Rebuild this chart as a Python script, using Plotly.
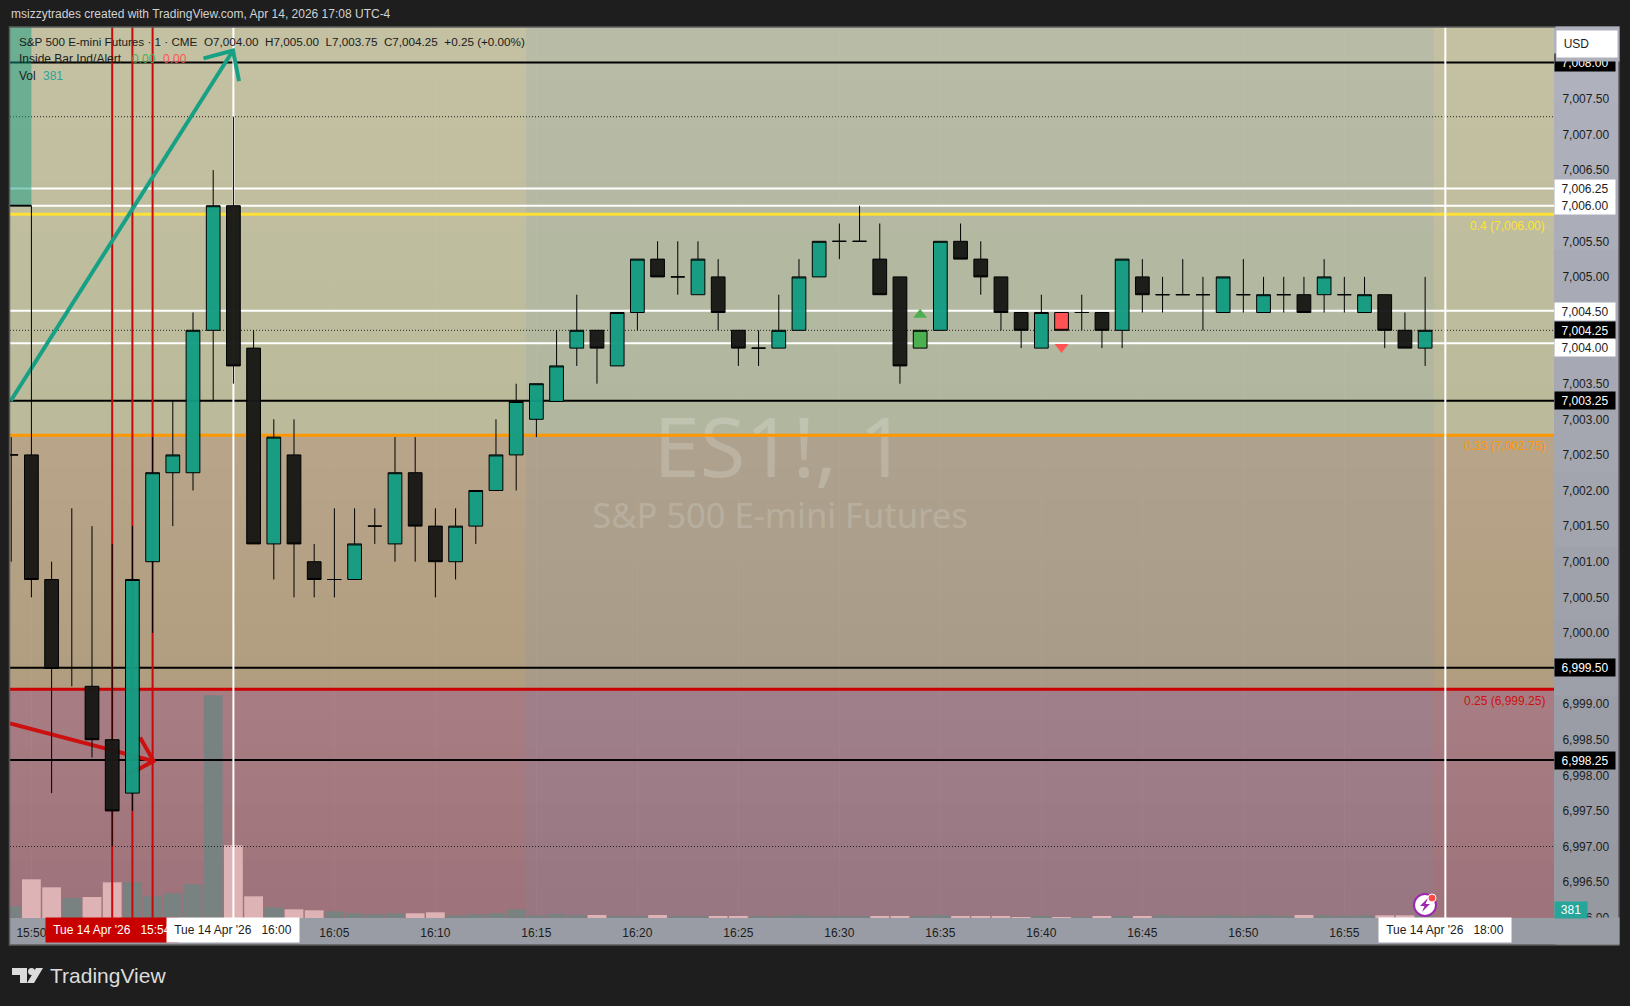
import plotly.graph_objects as go

FONT = "Liberation Sans"

# 1 min bars, 15:49 .. 16:59
times = ["15:%02d" % m for m in range(49, 60)] + ["16:%02d" % m for m in range(0, 60)] + ["18:00"]
opens = [7002.5, 7002.5, 7000.75, None, 6999.25, 6998.5, 6997.75, 7001, 7002.25, 7002.25,
         7004.25, 7006, 7004, 7001.25, 7002.5, 7001, 7000.75, 7000.75, 7001.5, 7001.25,
         7002.25, 7001.5, 7001, 7001.5, 7002, 7002.5, 7003, 7003.25, 7004, 7004.25,
         7003.75, 7004.5, 7005.25, 7005, 7004.75, 7005, 7004.25, 7004, 7004, 7004.25,
         7005, 7005.5, 7005.5, 7005.25, 7005, 7004, 7004.25, 7005.5, 7005.25, 7005,
         7004.5, 7004, 7004.5, 7004.5, 7004.5, 7004.25, 7005, 7004.75, 7004.75, 7004.75,
         7004.5, 7004.75, 7004.5, 7004.75, 7004.75, 7004.75, 7004.75, 7004.5, 7004.75, 7004.25,
         7004]
highs = [7002.75, 7006, 7001, 7001.75, 7001.5, 7001.25, 7001.5, 7002.75, 7003.25, 7004.5,
         7006.5, 7007.25, 7004.25, 7003, 7003, 7001.25, 7001.75, 7001.75, 7001.75, 7002.75,
         7002.75, 7001.75, 7001.75, 7002, 7003, 7003.5, 7003.5, 7004.25, 7004.75, 7004.25,
         7004.5, 7005.25, 7005.5, 7005.5, 7005.5, 7005.25, 7004.25, 7004.25, 7004.75, 7005.25,
         7005.5, 7005.75, 7006, 7005.75, 7005, 7004.25, 7005.5, 7005.75, 7005.5, 7005,
         7004.5, 7004.75, 7004.5, 7004.75, 7004.5, 7005.25, 7005.25, 7005, 7005.25, 7005,
         7005, 7005.25, 7005, 7005, 7005, 7005.25, 7005, 7005, 7004.75, 7004.5,
         7005]
lows = [7001, 7000.5, 6997.75, 6999.25, 6998.25, 6997, 6997.5, 7000, 7001.5, 7002,
        7003.25, 7003.5, 7001.25, 7000.75, 7000.5, 7000.5, 7000.5, 7000.75, 7001.25, 7001,
        7001, 7000.5, 7000.75, 7001.25, 7002, 7002, 7002.75, 7003.25, 7003.75, 7003.5,
        7003.75, 7004.25, 7005, 7004.75, 7004.75, 7004.25, 7003.75, 7003.75, 7004, 7004.25,
        7005, 7005.25, 7005.5, 7004.75, 7003.5, 7004, 7004.25, 7005.25, 7004.75, 7004.25,
        7004, 7004, 7004.25, 7004.25, 7004, 7004, 7004.5, 7004.5, 7004.75, 7004.25,
        7004.5, 7004.5, 7004.5, 7004.5, 7004.5, 7004.5, 7004.5, 7004.5, 7004, 7004,
        7003.75]
closes = [7002.5, 7000.75, 6999.5, None, 6998.5, 6997.5, 7000.75, 7002.25, 7002.5, 7004.25,
          7006, 7003.75, 7001.25, 7002.75, 7001.25, 7000.75, 7000.75, 7001.25, 7001.5, 7002.25,
          7001.5, 7001, 7001.5, 7002, 7002.5, 7003.25, 7003.5, 7003.75, 7004.25, 7004,
          7004.5, 7005.25, 7005, 7005, 7005.25, 7004.5, 7004, 7004, 7004.25, 7005,
          7005.5, 7005.5, 7005.5, 7004.75, 7003.75, 7004.25, 7005.5, 7005.25, 7005, 7004.5,
          7004.25, 7004.5, 7004.25, 7004.5, 7004.25, 7005.25, 7004.75, 7004.75, 7004.75, 7004.75,
          7005, 7004.75, 7004.75, 7004.75, 7004.5, 7005, 7004.75, 7004.75, 7004.25, 7004,
          7004.25]
volumes = [1800, 5800, 4600, 3000, 3150, 5350, 5350, 3250, 3700, 5050,
           33400, 10900, 3250, 1600, 1300, 1150, 1000, 700, 550, 700,
           700, 850, 400, 550, 700, 1300, 400, 600, 450, 450,
           300, 300, 450, 300, 300, 300, 300, 300, 300, 450,
           300, 300, 300, 300, 300, 300, 450, 300, 300, 300,
           150, 300, 150, 100, 300, 300, 300, 450, 300, 300,
           450, 300, 450, 300, 450, 400, 350, 400, 400, 400,
           381]
pink_vol = [1, 2, 4, 5, 11, 12, 14, 15, 20, 21, 29, 32, 35, 36, 43, 44, 47, 48, 49, 50, 52, 54, 56, 64, 68, 69]
inside_up = 45
inside_down = 52
no_body = 3

white_lines = [7006.24, 7006.0, 7004.525, 7004.07]
black_lines = [7008.01, 7003.26, 6999.51, 6998.215]
dotted_lines = [7007.25, 7004.25, 6997.0]
fib_lines = [(7005.88, "#ffe135"), (7002.775, "#ff9800"), (6999.21, "#cc0000")]
red_times = ["15:54", "15:55", "15:56"]
white_times = ["16:00", "18:00"]
time_ticks = ["15:50", "16:05", "16:10", "16:15", "16:20", "16:25", "16:30", "16:35",
              "16:40", "16:45", "16:50", "16:55"]
price_ticks = [6996, 6996.5, 6997, 6997.5, 6998, 6998.5, 6999, 6999.5, 7000, 7000.5, 7001, 7001.5, 7002,
               7002.5, 7003, 7003.5, 7004, 7004.5, 7005, 7005.5, 7006, 7006.5, 7007, 7007.5, 7008]
flags = [("7,008.00", 7008.01, "black"), ("7,006.25", 7006.24, "white"), ("7,006.00", 7006.0, "white"),
         ("7,004.50", 7004.52, "white"), ("7,004.25", 7004.25, "black"), ("7,004.00", 7004.01, "white"),
         ("7,003.25", 7003.26, "black"), ("6,999.50", 6999.51, "black"), ("6,998.25", 6998.215, "black")]

XMIN, XMAX = -0.06, 76.38
YMIN, YMAX = 6995.996, 7008.51
VOLMAX = 133650

teal_arrow_x = [-0.02, 10.98, None, 9.52, 10.98, 11.28]
teal_arrow_y = [7003.26, 7008.18, None, 7008.07, 7008.18, 7007.75]
red_arrow_x = [-0.06, 7.05, None, 6.38, 7.05, 5.67]
red_arrow_y = [6998.73, 6998.2, None, 6998.53, 6998.2, 6997.99]


def X(px):
    return (px - 10) / 1544


def Y(py):
    return (918 - py) / 891


idx = list(range(len(times)))
pos = {t: i for i, t in enumerate(times)}
fig = go.Figure()

# volume is the lowest thing on the chart
fig.add_trace(go.Bar(x=idx[:71], y=volumes, width=0.93, yaxis="y", hoverinfo="skip",
                     marker=dict(color=["#deb3b6" if i in pink_vol else "#788280" for i in idx[:71]], line_width=0)))

# watermark
fig.add_trace(go.Scatter(x=[38.06], y=[7002.48], yaxis="y2", mode="text", text=["ES1!, 1"], hoverinfo="skip",
                         textfont=dict(family="Noto Sans", size=83, color="rgba(255,255,255,0.18)")))
fig.add_trace(go.Scatter(x=[38.06], y=[7001.6], yaxis="y2", mode="text", text=["S&P 500 E-mini Futures"], hoverinfo="skip",
                         textfont=dict(family="Noto Sans", size=34.5, color="rgba(255,255,255,0.18)")))


def hline(p, color, width, dash="solid"):
    fig.add_trace(go.Scatter(x=[XMIN, XMAX], y=[p, p], yaxis="y2", mode="lines", hoverinfo="skip",
                             line=dict(color=color, width=width, dash=dash)))


def vline(t, color, width):
    fig.add_trace(go.Scatter(x=[pos[t], pos[t]], y=[YMIN, YMAX], yaxis="y2", mode="lines", hoverinfo="skip",
                             line=dict(color=color, width=width)))


for p in dotted_lines:
    hline(p, "#222222", 1, "1px,2px")
for p in white_lines:
    hline(p, "#ffffff", 2)
for p, c in fib_lines:
    hline(p, c, 3)
for p in black_lines:
    hline(p, "#000000", 2)
for t in red_times:
    vline(t, "#c80a0a", 2)
for t in white_times:
    vline(t, "#ffffff", 2)

# box at the left edge
fig.add_trace(go.Scatter(x=[XMIN, 1, 1, XMIN, XMIN], y=[YMAX, YMAX, 7006, 7006, YMAX], yaxis="y2", mode="lines",
                         fill="toself", fillcolor="rgba(20,155,130,0.5)", line_width=0, hoverinfo="skip"))
fig.add_trace(go.Scatter(x=[XMIN, 1], y=[7006, 7006], yaxis="y2", mode="lines", hoverinfo="skip",
                         line=dict(color="#000000", width=2)))
fig.add_trace(go.Scatter(x=teal_arrow_x, y=teal_arrow_y, yaxis="y2", mode="lines", hoverinfo="skip",
                         line=dict(color="#18a085", width=4)))
fig.add_trace(go.Scatter(x=red_arrow_x, y=red_arrow_y, yaxis="y2", mode="lines", hoverinfo="skip",
                         line=dict(color="#cc1010", width=4)))

# candles on top of the drawings
skip = [no_body, inside_up, inside_down]
keep = [i for i in idx[:71] if i not in skip]


def candles(ii, up, down):
    fig.add_trace(go.Candlestick(x=ii, open=[opens[i] for i in ii], high=[highs[i] for i in ii],
                                 low=[lows[i] for i in ii], close=[closes[i] for i in ii], yaxis="y3",
                                 whiskerwidth=0, hoverinfo="skip",
                                 increasing=dict(fillcolor=up, line=dict(color="#000000", width=1)),
                                 decreasing=dict(fillcolor=down, line=dict(color="#000000", width=1))))


candles(keep, "rgba(18,156,130,0.96)", "rgba(24,24,22,0.97)")
candles([inside_up], "#4caf50", "#4caf50")
candles([inside_down], "#ff5252", "#ff5252")
fig.add_trace(go.Scatter(x=[no_body, no_body], y=[lows[no_body], highs[no_body]], yaxis="y3", mode="lines",
                         hoverinfo="skip", line=dict(color="#000000", width=1)))
fig.add_trace(go.Scatter(x=[inside_up], y=[7004.47], yaxis="y3", mode="markers", hoverinfo="skip",
                         marker=dict(symbol="triangle-up", size=12, color="#4caf50")))
fig.add_trace(go.Scatter(x=[inside_down], y=[7004.015], yaxis="y3", mode="markers", hoverinfo="skip",
                         marker=dict(symbol="triangle-down", size=12, color="#ff5252")))

shapes = []


def rect(x0, y0, x1, y1, fill, layer="below"):
    shapes.append(dict(type="rect", xref="paper", yref="paper", x0=X(x0), x1=X(x1), y0=Y(y0), y1=Y(y1),
                       fillcolor=fill, line_width=0, layer=layer))


def gradient(x0, y0, y1, x1, c0, c1, n=8):
    # every step runs to the bottom of the zone so no seams show between them
    for k in range(n):
        c = [round(a + (b - a) * (k + 0.5) / n) for a, b in zip(c0, c1)]
        rect(x0, y0 + (y1 - y0) * k / n, x1, y1, "rgb(%d,%d,%d)" % tuple(c))


def polygon(points, fill):
    d = "M " + " L ".join("%f,%f" % (X(a), Y(b)) for a, b in points) + " Z"
    shapes.append(dict(type="path", xref="paper", yref="paper", path=d, fillcolor=fill, line_width=0, layer="above"))


gradient(10, 27, 435.5, 1554, (196, 193, 162), (186, 187, 155))
gradient(10, 435.5, 689.5, 1554, (185, 164, 137), (176, 158, 128))
gradient(10, 689.5, 918, 1554, (168, 126, 132), (158, 114, 122))
rect(526, 27, 1434, 918, "rgba(110,150,190,0.12)")
gradient(1554, 27, 918, 1619, (176, 178, 190), (150, 152, 160), 12)
rect(10, 918, 1619, 945, "#999ca4")
shapes.append(dict(type="rect", xref="paper", yref="paper", x0=X(9.5), x1=X(1619), y0=Y(27), y1=Y(945),
                   line=dict(color="#5c5c5c", width=1.5), layer="above"))

# alert icon
shapes.append(dict(type="circle", xref="paper", yref="paper", x0=X(1414), x1=X(1436), y0=Y(894), y1=Y(916),
                   fillcolor="#ffffff", line=dict(color="#9c27b0", width=2), layer="above"))
polygon([(1428, 898), (1420, 906), (1424.5, 906), (1422, 912), (1430, 904), (1425.5, 904)], "#9c27b0")
shapes.append(dict(type="circle", xref="paper", yref="paper", x0=X(1428), x1=X(1436), y0=Y(894), y1=Y(902),
                   fillcolor="#ff4a4a", line=dict(color="#ffffff", width=1), layer="above"))

# logo
polygon([(12, 968), (27, 968), (27, 983), (20, 983), (20, 975), (12, 975)], "#dcdcdc")
polygon([(36, 968), (43, 968), (34, 983), (27, 983)], "#dcdcdc")
shapes.append(dict(type="circle", xref="paper", yref="paper", x0=X(28), x1=X(35), y0=Y(968), y1=Y(975),
                   fillcolor="#dcdcdc", line_width=0, layer="above"))

notes = []


def note(text, px, py, color="#1c1c1c", size=12, anchor="left", **kw):
    notes.append(dict(text=text, xref="paper", yref="paper", x=X(px), y=Y(py), xanchor=anchor, yanchor="middle",
                      showarrow=False, font=dict(family=FONT, size=size, color=color), borderpad=0, **kw))


note("msizzytrades created with TradingView.com, Apr 14, 2026 17:08 UTC-4", 10, 14.5, "#d2d2d2")
note("S&P 500 E-mini Futures · 1 · CME\u00a0\u00a0O7,004.00\u00a0\u00a0H7,005.00\u00a0\u00a0L7,003.75\u00a0\u00a0C7,004.25\u00a0\u00a0+0.25 (+0.00%)",
     18, 41.5, size=11.7)
note("Inside Bar Ind/Alert", 18, 58.5)
note("0.00", 131, 58.5, "#4caf50")
note("0.00", 162, 58.5, "#ff5252")
note("Vol", 18, 76)
note("381", 42, 76, "#26a69a")
note("0.4 (7,006.00)", 1546, 225.5, "#ffe135", anchor="right")
note("0.33 (7,002.75)", 1546, 446, "#ff9800", anchor="right")
note("0.25 (6,999.25)", 1546, 701, "#cc1111", anchor="right")
note("TradingView", 49, 976, "#dcdcdc", 21)

for text, p, style in flags:
    notes.append(dict(text=text, xref="paper", yref="y2", x=X(1585), y=p, xanchor="center", yanchor="middle",
                      showarrow=False, width=60, height=17, borderpad=0,
                      bgcolor="#000000" if style == "black" else "#ffffff",
                      font=dict(family=FONT, size=12, color="#ffffff" if style == "black" else "#1c1c1c")))
# the pane cuts the top of the 7,008.00 flag, and the USD button sits on that
note(" ", 1587, 44, "#1c1c1c", 12, "center", bgcolor="#aeb0bc", width=63, height=34)
note("\u00a0\u00a0USD", 1587, 44.5, "#1c1c1c", 12, "center", bgcolor="#ffffff", width=60, height=26, align="left")
note(" ", 1587, 931, "#1c1c1c", 12, "center", bgcolor="#999ca4", width=63, height=26)
note("381", 1571, 910, "#ffffff", 12, "center", bgcolor="#26a69a", width=32, height=16)

for t, bg, fg in [("15:54", "#c80000", "#ffffff"), ("16:00", "#ffffff", "#1c1c1c"), ("18:00", "#ffffff", "#1c1c1c")]:
    notes.append(dict(text="Tue 14 Apr '26\u00a0\u00a0\u00a0" + t, xref="x", yref="paper", x=pos[t], y=Y(930), xanchor="center",
                      yanchor="middle", showarrow=False, width=132, height=24, borderpad=0, bgcolor=bg,
                      font=dict(family=FONT, size=12, color=fg)))

fig.update_layout(
    width=1630, height=1006, margin=dict(l=10, r=76, t=27, b=88), autosize=False,
    paper_bgcolor="#1e1e1e", plot_bgcolor="rgba(0,0,0,0)", showlegend=False,
    boxgap=0.32, boxgroupgap=0, boxmode="overlay",
    shapes=shapes, annotations=notes, hovermode=False,
    font=dict(family=FONT, size=12, color="#1c1c1c"),
    xaxis=dict(range=[XMIN, XMAX], tickmode="array", tickvals=[pos[t] for t in time_ticks], ticktext=time_ticks,
               showgrid=True, gridcolor="rgba(255,255,255,0.03)", zeroline=False, rangeslider=dict(visible=False),
               ticks="outside", ticklen=4, tickcolor="rgba(0,0,0,0)", showline=False),
    yaxis=dict(range=[0, VOLMAX], visible=False),
    yaxis2=dict(range=[YMIN, YMAX], overlaying="y", side="right", tickmode="array", tickvals=price_ticks,
                tickformat=",.2f", showgrid=False, zeroline=False, ticks="outside", ticklen=5,
                tickcolor="rgba(0,0,0,0)", showline=False),
    yaxis3=dict(range=[YMIN, YMAX], overlaying="y", side="right", visible=False),
)

# page margin would otherwise leave a white edge round the chart
fig.write_html("out.html", config={"displayModeBar": False},
               post_script="document.body.style.margin='0';document.body.style.background='#1e1e1e';")
